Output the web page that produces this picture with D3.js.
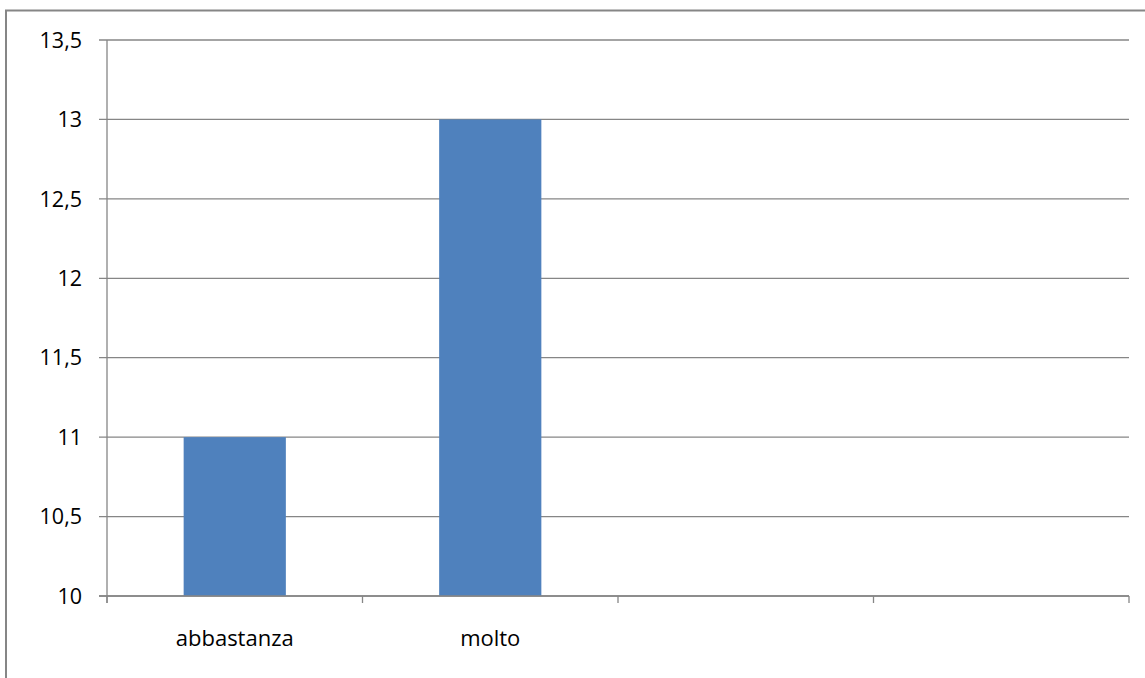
<!DOCTYPE html>
<html><head><meta charset="utf-8">
<script src="https://cdn.jsdelivr.net/npm/d3@7"></script>
<style>body{margin:0;background:#fff}svg{display:block}</style>
</head><body>
<svg id="c" width="1145" height="678"></svg>
<script>
const categories = ["abbastanza", "molto", "", ""];
const values = [11, 13, null, null];
const yTicks = [10, 10.5, 11, 11.5, 12, 12.5, 13, 13.5];

const svg = d3.select("#c");
const W = 1145, H = 678;
const m = {left: 107, right: 1129, top: 40, bottom: 596};
const grey = "#868686";

svg.append("rect").attr("x", 6).attr("y", 10.5).attr("width", W + 10).attr("height", H + 10)
  .attr("fill", "#fff").attr("stroke", grey).attr("stroke-width", 2);

const x = d3.scaleBand().domain(d3.range(categories.length)).range([m.left, m.right]).paddingInner(0).paddingOuter(0);
const y = d3.scaleLinear().domain([10, 13.5]).range([m.bottom, m.top]);
const fmt = v => String(v).replace(".", ",");

// gridlines
svg.append("g").selectAll("line").data(yTicks).join("line")
  .attr("x1", m.left - 8).attr("x2", m.right)
  .attr("y1", d => y(d)).attr("y2", d => y(d))
  .attr("stroke", grey).attr("stroke-width", 1.3);

// bars
const bw = x.bandwidth() * 0.4;
svg.append("g").selectAll("rect").data(values.map((v, i) => ({v, i})).filter(d => d.v != null)).join("rect")
  .attr("x", d => x(d.i) + (x.bandwidth() - bw) / 2)
  .attr("width", bw)
  .attr("y", d => y(d.v))
  .attr("height", d => y(10) - y(d.v))
  .attr("fill", "#4f81bd");

// y axis line
svg.append("line").attr("x1", m.left).attr("x2", m.left).attr("y1", m.top).attr("y2", m.bottom + 7)
  .attr("stroke", grey).attr("stroke-width", 1.3);
// x axis line
svg.append("line").attr("x1", m.left - 8).attr("x2", m.right).attr("y1", m.bottom).attr("y2", m.bottom)
  .attr("stroke", grey).attr("stroke-width", 1.3);
// x ticks
const xt = d3.range(categories.length + 1).map(i => m.left + i * x.step());
svg.append("g").selectAll("line").data(xt).join("line")
  .attr("x1", d => d).attr("x2", d => d).attr("y1", m.bottom).attr("y2", m.bottom + 7)
  .attr("stroke", grey).attr("stroke-width", 1.3);

// y labels
svg.append("g").selectAll("text").data(yTicks).join("text")
  .attr("x", 82).attr("y", d => y(d)).attr("dy", "0.36em")
  .attr("text-anchor", "end")
  .attr("font-family", "Open Sans, sans-serif").attr("font-size", 21.5).attr("fill", "#000")
  .text(fmt);

// x labels
svg.append("g").selectAll("text").data(categories).join("text")
  .attr("x", (d, i) => x(i) + x.bandwidth() / 2).attr("y", 646)
  .attr("text-anchor", "middle")
  .attr("font-family", "Open Sans, sans-serif").attr("font-size", 22).attr("fill", "#000")
  .text(d => d);
</script>
</body></html>
